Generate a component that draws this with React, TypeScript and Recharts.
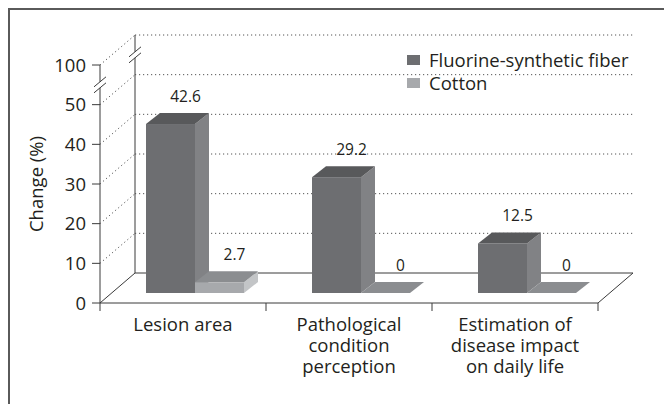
import React from 'react';
import { BarChart, Bar, XAxis, YAxis, CartesianGrid } from 'recharts';

const CATEGORIES = ['Lesion area', 'Pathological\ncondition\nperception', 'Estimation of\ndisease impact\non daily life'];
const FLUORINE = [42.6, 29.2, 12.5];
const COTTON = [2.7, 0, 0];
// broken axis: the last step is labelled 100
const Y_TICKS = [0, 10, 20, 30, 40, 50, 60];
const Y_TICK_LABELS = ['0', '10', '20', '30', '40', '50', '100'];
const BREAK_AT = 55;

const SERIES = [
  { key: 'fluorine', name: 'Fluorine-synthetic fiber', front: '#6d6e71', top: '#58595b', side: '#818285' },
  { key: 'cotton', name: 'Cotton', front: '#a7a9ac', top: '#8b8d90', side: '#c3c5c7' },
];

const data = CATEGORIES.map((name, i) => ({ name, fluorine: FLUORINE[i], cotton: COTTON[i] }));

const FONT = '"Open Sans", sans-serif';
const TEXT = '#231f20';
const AXIS = '#3a3a3a';
const WALL_DX = 35;
const WALL_DY = 30;
const BAR_SX = 12;
const BAR_SY = 10;
const BAR_DX = 14;
const BAR_DY = 11;

function pts(list: number[][]) {
  return list.map((p) => p.join(',')).join(' ');
}

function make3DBar(s: (typeof SERIES)[number]) {
  return (props: any) => {
    const { x, y, width, height } = props;
    const x0 = x + BAR_SX;
    const x1 = x0 + width;
    const yTop = y - BAR_SY;
    const yBot = y + height - BAR_SY;
    if (height < 0.5) {
      return (
        <polygon
          points={pts([[x0, yBot], [x1, yBot], [x1 + BAR_DX, yBot - BAR_DY], [x0 + BAR_DX, yBot - BAR_DY]])}
          fill={s.top}
        />
      );
    }
    return (
      <g>
        <polygon points={pts([[x1, yTop], [x1 + BAR_DX, yTop - BAR_DY], [x1 + BAR_DX, yBot - BAR_DY], [x1, yBot]])} fill={s.side} />
        <polygon points={pts([[x0, yTop], [x0 + BAR_DX, yTop - BAR_DY], [x1 + BAR_DX, yTop - BAR_DY], [x1, yTop]])} fill={s.top} />
        <rect x={x0} y={yTop} width={width} height={height} fill={s.front} />
      </g>
    );
  };
}

const ValueLabel = (props: any) => {
  const vb = props.viewBox || props;
  const top = Math.min(vb.y, vb.y + vb.height);
  return (
    <text
      x={vb.x + vb.width / 2 + BAR_SX + 15}
      y={top - BAR_SY - 22}
      textAnchor="middle"
      fontFamily={FONT}
      fontSize={15.5}
      fill={TEXT}
    >
      {props.value}
    </text>
  );
};

function breakMarks(x: number, yb: number, key: string) {
  const g = 3;
  return (
    <g key={key}>
      <line x1={x - 6} y1={yb + g + 5} x2={x + 6} y2={yb + g - 5} stroke={AXIS} />
      <line x1={x - 6} y1={yb - g + 5} x2={x + 6} y2={yb - g - 5} stroke={AXIS} />
    </g>
  );
}

const renderGridLine = (props: any) => {
  const { x1, y1, x2, y, height } = props;
  const floorY = y + height;
  const bx = x1 + WALL_DX;
  const by = y1 - WALL_DY;
  if (Math.abs(y1 - floorY) < 0.5) {
    const maxV = Y_TICKS[Y_TICKS.length - 1];
    const yb = y + (height * (maxV - BREAK_AT)) / maxV;
    return (
      <g key={props.key}>
        {/* floor */}
        <line x1={x1} y1={y1} x2={bx} y2={by} stroke={AXIS} />
        <line x1={bx} y1={by} x2={x2 + WALL_DX} y2={by} stroke={AXIS} />
        <line x1={x2} y1={y1} x2={x2 + WALL_DX} y2={by} stroke={AXIS} />
        {/* front axis with break */}
        <line x1={x1} y1={floorY} x2={x1} y2={yb + 3} stroke={AXIS} />
        <line x1={x1} y1={yb - 3} x2={x1} y2={y} stroke={AXIS} />
        {breakMarks(x1, yb, 'fb')}
        {/* back wall edge with break */}
        <line x1={bx} y1={by} x2={bx} y2={yb - WALL_DY + 3} stroke={AXIS} />
        <line x1={bx} y1={yb - WALL_DY - 3} x2={bx} y2={y - WALL_DY} stroke={AXIS} />
        {breakMarks(bx, yb - WALL_DY, 'bb')}
      </g>
    );
  }
  return (
    <g key={props.key}>
      <line x1={x1} y1={y1} x2={bx} y2={by} stroke="#555" strokeDasharray="1.2 2.8" />
      <line x1={bx} y1={by} x2={x2 + WALL_DX} y2={by} stroke="#555" strokeDasharray="1.2 2.8" />
    </g>
  );
};

const XTick = (props: any) => {
  const { x, y, payload, index, visibleTicksCount } = props;
  const half = payload && payload.offset ? payload.offset : 83;
  const lines = String(payload.value).split('\n');
  return (
    <g>
      <line x1={x - half} y1={y} x2={x - half} y2={y + 8} stroke={AXIS} />
      {index === visibleTicksCount - 1 && <line x1={x + half} y1={y} x2={x + half} y2={y + 8} stroke={AXIS} />}
      <text x={x} y={y + 28} textAnchor="middle" fontFamily={FONT} fontSize={18.5} fill={TEXT}>
        {lines.map((l, i) => (
          <tspan key={i} x={x} dy={i === 0 ? 0 : 21}>
            {l}
          </tspan>
        ))}
      </text>
    </g>
  );
};

const YLabel = () => (
  <text
    transform="translate(43,184) rotate(-90)"
    textAnchor="middle"
    fontFamily={FONT}
    fontSize={18.5}
    fill={TEXT}
  >
    Change (%)
  </text>
);

export default function App() {
  return (
    <div style={{ position: 'relative', width: 664, height: 404, overflow: 'hidden', background: '#fff' }}>
      <style>{`body{margin:0;overflow:hidden}`}</style>
      <div
        style={{
          position: 'absolute',
          left: 8,
          top: 8,
          width: 680,
          height: 420,
          border: '2px solid #5a5a5a',
          boxSizing: 'border-box',
        }}
      />
      <div style={{ position: 'absolute', left: 0, top: 0 }}>
        <BarChart
          width={664}
          height={404}
          data={data}
          margin={{ top: 65, right: 66, bottom: 0, left: 0 }}
          barSize={49}
          barGap={0}
        >
          <CartesianGrid vertical={false} horizontal={renderGridLine} />
          <XAxis
            dataKey="name"
            height={101}
            axisLine={{ stroke: AXIS }}
            tickLine={false}
            tickSize={0}
            tickMargin={0}
            interval={0}
            tick={<XTick />}
          />
          <YAxis
            width={100}
            domain={[0, 60]}
            ticks={Y_TICKS}
            interval={0}
            axisLine={false}
            tickLine={{ stroke: AXIS }}
            tickSize={8}
            tickMargin={6}
            tickFormatter={(v: number) => Y_TICK_LABELS[Y_TICKS.indexOf(v)]}
            tick={{ fill: TEXT, fontSize: 18.5, fontFamily: FONT }}
            label={<YLabel />}
          />
          {SERIES.map((s) => (
            <Bar
              key={s.key}
              dataKey={s.key}
              name={s.name}
              fill={s.front}
              isAnimationActive={false}
              shape={make3DBar(s)}
              label={<ValueLabel />}
            />
          ))}
        </BarChart>
      </div>
      <div
        style={{
          position: 'absolute',
          left: 407,
          top: 48,
          fontFamily: FONT,
          fontSize: 18.5,
          lineHeight: '23px',
          color: TEXT,
        }}
      >
        {SERIES.map((s) => (
          <div key={s.key} style={{ display: 'flex', alignItems: 'center', whiteSpace: 'nowrap' }}>
            <span style={{ display: 'inline-block', width: 13, height: 10, background: s.front, marginRight: 9 }} />
            {s.name}
          </div>
        ))}
      </div>
    </div>
  );
}
